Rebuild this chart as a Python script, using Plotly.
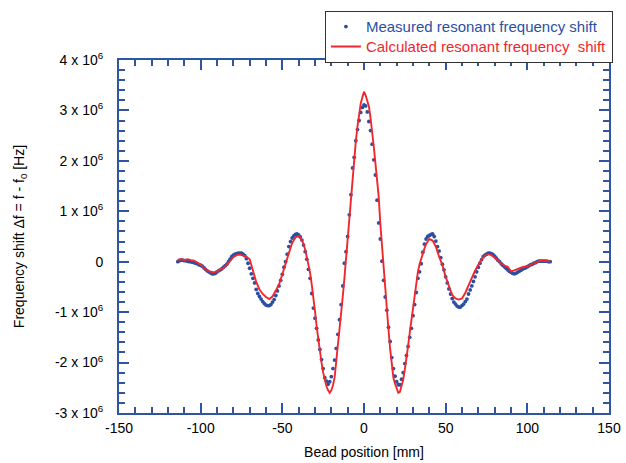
import plotly.graph_objects as go

# Measured resonant frequency shift (units of 1e6 Hz), 1 mm steps from -114 to 114 mm
meas_x = list(range(-114, 115))
meas_y = [
    0.00, 0.02, 0.03, 0.03, 0.02, 0.02, 0.01, 0.00, 0.00, -0.01,   # -114..-105
    -0.02, -0.03, -0.04, -0.06, -0.07, -0.09, -0.12, -0.15, -0.18, -0.20,  # -104..-95
    -0.22, -0.24, -0.24, -0.23, -0.20, -0.18, -0.16, -0.14, -0.11, -0.08,  # -94..-85
    -0.05, 0.00, 0.05, 0.10, 0.13, 0.15, 0.16, 0.17, 0.17, 0.17,   # -84..-75
    0.15, 0.12, 0.06, -0.03, -0.13, -0.24, -0.33, -0.42, -0.55, -0.63,  # -74..-65
    -0.69, -0.74, -0.79, -0.83, -0.86, -0.87, -0.87, -0.85, -0.80, -0.75,  # -64..-55
    -0.67, -0.58, -0.48, -0.37, -0.25, -0.11, 0.00, 0.15, 0.30, 0.40,  # -54..-45
    0.47, 0.51, 0.54, 0.55, 0.53, 0.49, 0.43, 0.33, 0.20, 0.05,   # -44..-35
    -0.15, -0.33, -0.63, -0.92, -1.12, -1.32, -1.55, -1.74, -1.94, -2.12,  # -34..-25
    -2.30, -2.37, -2.43, -2.38, -2.28, -2.12, -1.95, -1.72, -1.44, -1.15,  # -24..-15
    -0.85, -0.48, -0.03, 0.20, 0.50, 0.93, 1.33, 1.86, 2.07, 2.40,  # -14..-5
    2.62, 2.80, 2.96, 3.06, 3.11, 3.09, 2.97, 2.78, 2.60, 2.33,   # -4..5
    2.02, 1.72, 1.22, 0.77, 0.45, 0.01, -0.37, -0.70, -0.96, -1.30,  # 6..15
    -1.58, -1.90, -2.12, -2.27, -2.38, -2.44, -2.44, -2.33, -2.20, -2.02,  # 16..25
    -1.86, -1.68, -1.50, -1.32, -1.07, -0.85, -0.61, -0.33, -0.20, -0.04,  # 26..35
    0.19, 0.35, 0.45, 0.50, 0.52, 0.54, 0.55, 0.50, 0.41, 0.30,   # 36..45
    0.21, 0.08, -0.05, -0.16, -0.30, -0.42, -0.54, -0.64, -0.73, -0.80,  # 46..55
    -0.84, -0.88, -0.90, -0.90, -0.87, -0.84, -0.79, -0.74, -0.64, -0.56,  # 56..65
    -0.48, -0.39, -0.30, -0.20, -0.11, -0.03, 0.04, 0.10, 0.13, 0.15,  # 66..75
    0.17, 0.17, 0.16, 0.14, 0.11, 0.07, 0.03, 0.00, -0.04, -0.07,  # 76..85
    -0.10, -0.13, -0.16, -0.19, -0.21, -0.23, -0.24, -0.23, -0.21, -0.19,  # 86..95
    -0.17, -0.15, -0.13, -0.12, -0.10, -0.08, -0.06, -0.05, -0.03, -0.02,  # 96..105
    0.00, 0.01, 0.01, 0.01, 0.01, 0.01, 0.01, 0.00, 0.00,   # 106..114
]

# Calculated resonant frequency shift (units of 1e6 Hz)
calc_x = list(range(-114, -40, 2)) + list(range(-40, 41)) + list(range(42, 115, 2))
calc_y = [
    0.04, 0.05, 0.03, 0.05, 0.03, 0.02, -0.02, -0.06, -0.12, -0.17,   # -114..-96
    -0.20, -0.21, -0.19, -0.16, -0.12, -0.06, 0.02, 0.09, 0.13, 0.14,  # -94..-76
    0.12, 0.10, 0.05, -0.17, -0.40, -0.55, -0.64, -0.70, -0.74, -0.69,  # -74..-56
    -0.58, -0.45, -0.25, -0.06, 0.17, 0.37, 0.48,                      # -54..-42
    0.51, 0.48, 0.42, 0.35, 0.24, 0.10, -0.08, -0.22, -0.45, -0.69,    # -40..-31
    -0.98, -1.28, -1.55, -1.81, -2.00, -2.20, -2.35, -2.47, -2.55, -2.60,  # -30..-21
    -2.55, -2.45, -2.30, -2.00, -1.68, -1.35, -1.02, -0.69, -0.33, 0.08,  # -20..-11
    0.50, 0.90, 1.29, 1.69, 2.09, 2.39, 2.68, 2.91, 3.14, 3.26,        # -10..-1
    3.37,                                                                # 0
    3.30, 3.20, 3.08, 2.85, 2.61, 2.28, 1.95, 1.62, 1.29, 0.75,        # 1..10
    0.30, -0.03, -0.49, -0.92, -1.35, -1.73, -2.05, -2.30, -2.42, -2.52,  # 11..20
    -2.60, -2.58, -2.46, -2.34, -2.14, -1.94, -1.67, -1.41, -1.15, -0.89,  # 21..30
    -0.62, -0.36, -0.20, -0.05, 0.07, 0.14, 0.26, 0.35, 0.40, 0.45,    # 31..40
    0.42, 0.30, 0.10, -0.07, -0.30, -0.50, -0.66, -0.73, -0.75, -0.73,  # 42..60
    -0.62, -0.47, -0.32, -0.18, -0.06, 0.05, 0.12, 0.15, 0.13, 0.08,   # 62..80
    0.03, -0.04, -0.08, -0.10, -0.19, -0.17, -0.14, -0.12, -0.10, -0.09,  # 82..100
    -0.06, -0.03, 0.00, 0.02, 0.02, 0.02, 0.01,                         # 102..114
]

y_tickvals = [-3, -2, -1, 0, 1, 2, 3, 4]
y_ticktext = ["-3 x 10<sup>6</sup>", "-2 x 10<sup>6</sup>", "-1 x 10<sup>6</sup>", "0",
              "1 x 10<sup>6</sup>", "2 x 10<sup>6</sup>", "3 x 10<sup>6</sup>", "4 x 10<sup>6</sup>"]
x_tickvals = [-150, -100, -50, 0, 50, 100, 150]
x_ticktext = ["-150", "-100", "-50", "0", "50", "100", "150"]

BLUE = "#2b50a2"
RED = "#f0282d"
AXIS = "#2e54a4"
FONT = "Arial, Liberation Sans, sans-serif"

fig = go.Figure()
fig.add_trace(go.Scatter(
    x=meas_x, y=meas_y, mode="markers",
    marker=dict(size=3.8, color=BLUE),
    name="<span style='color:%s;font-size:15px'>Measured resonant frequency shift</span>" % BLUE,
))
fig.add_trace(go.Scatter(
    x=calc_x, y=calc_y, mode="lines",
    line=dict(color=RED, width=1.9),
    name="<span style='color:%s;font-size:15px'>Calculated resonant frequency  shift</span>" % RED,
))

axis_common = dict(
    showline=True, linecolor=AXIS, linewidth=2, mirror="allticks",
    ticks="inside", tickcolor=AXIS, tickwidth=1.5, ticklen=10,
    showgrid=False, zeroline=False,
    tickfont=dict(family=FONT, size=14, color="black"),
)

fig.update_xaxes(
    range=[-150, 150], tickvals=x_tickvals, ticktext=x_ticktext, ticklabelstandoff=1,
    minor=dict(ticks="inside", dtick=10, ticklen=6, tickcolor=AXIS, tickwidth=1.5),
    title=dict(text="Bead position [mm]", font=dict(family=FONT, size=14, color="black"), standoff=12),
    **axis_common,
)
fig.update_yaxes(
    range=[-3, 4], tickvals=y_tickvals, ticktext=y_ticktext, ticklabelstandoff=11,
    minor=dict(ticks="inside", dtick=0.2, ticklen=6, tickcolor=AXIS, tickwidth=1.5),
    title=dict(text="Frequency shift Δf = f - f<sub>0</sub> [Hz]", font=dict(family=FONT, size=14, color="black"), standoff=27),
    **axis_common,
)

fig.update_layout(
    width=626, height=463, autosize=False,
    margin=dict(l=119, r=17, t=60, b=50, autoexpand=False),
    paper_bgcolor="white", plot_bgcolor="white",
    font=dict(family=FONT, size=14, color="black"),
    showlegend=True,
    legend=dict(
        x=1.008, xanchor="right", y=1.14, yanchor="top",
        bgcolor="white", bordercolor="#333333", borderwidth=1,
        font=dict(family=FONT, size=13),
        itemwidth=30, tracegroupgap=0,
    ),
)

fig.write_html("out.html", config={"displayModeBar": False},
               post_script="document.body.style.margin='0';document.body.style.overflow='hidden';")
